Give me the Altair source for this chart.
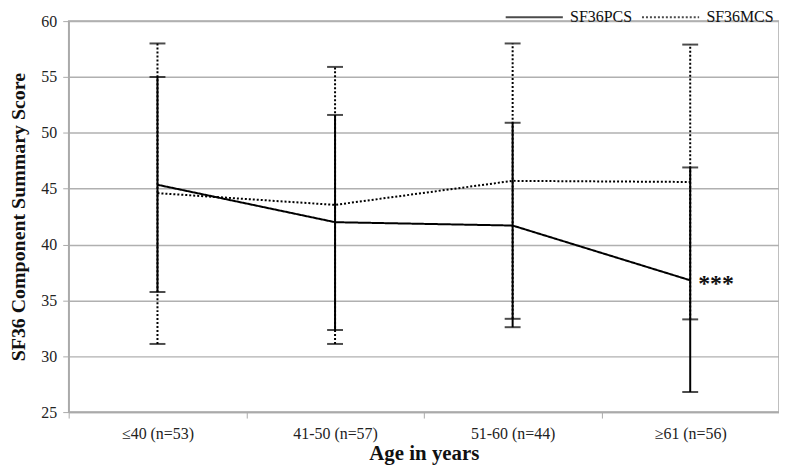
import altair as alt
import pandas as pd

categories = ["≤40 (n=53)", "41-50 (n=57)", "51-60 (n=44)", "≥61 (n=56)"]
series = ["SF36PCS", "SF36MCS"]
pcs_mean = [45.35, 42.0, 41.7, 36.8]
pcs_low = [35.75, 32.35, 32.6, 26.8]
pcs_high = [55.0, 51.6, 50.9, 46.9]
mcs_mean = [44.6, 43.55, 45.7, 45.6]
mcs_low = [31.1, 31.1, 33.35, 33.3]
mcs_high = [58.0, 55.9, 58.0, 57.9]
sig_labels = ["", "", "", "***"]

rows = []
for i, c in enumerate(categories):
    rows.append(dict(cat=c, series="SF36PCS", mean=pcs_mean[i], low=pcs_low[i], high=pcs_high[i], sig=sig_labels[i]))
    rows.append(dict(cat=c, series="SF36MCS", mean=mcs_mean[i], low=mcs_low[i], high=mcs_high[i], sig=""))
df = pd.DataFrame(rows)

FONT = "Times New Roman, Liberation Serif, serif"

x = alt.X("cat:N", sort=categories, title="Age in years",
          scale=alt.Scale(paddingInner=0, paddingOuter=0),
          axis=alt.Axis(labelAngle=0, labelFont=FONT, labelFontSize=16, labelColor="#222",
                        titleFont=FONT, titleFontSize=21, titleFontWeight="bold", titleColor="#111",
                        tickBand="extent", tickColor="#aaa", tickSize=6, domainColor="#aaa",
                        domainWidth=1.5, labelPadding=8, titlePadding=1))
yscale = alt.Scale(domain=[25, 60], nice=False, zero=False)
yaxis = alt.Axis(values=[25, 30, 35, 40, 45, 50, 55, 60], labelFont=FONT, labelFontSize=16,
                 labelColor="#222", titleFont=FONT, titleFontSize=20, titleFontWeight="bold",
                 titleColor="#111", gridColor="#b0b0b0", gridWidth=1.5, domainColor="#aaa",
                 domainWidth=1.5, tickColor="#aaa", tickSize=6, labelPadding=6, titlePadding=12)

leg = alt.Legend(title=None, orient="none", direction="horizontal",
                 legendX=438, legendY=-34, symbolType="stroke",
                 symbolSize=3300, symbolStrokeWidth=2, labelFont=FONT, labelFontSize=16,
                 labelColor="#111", columnPadding=5, labelOffset=6)
dash = alt.StrokeDash("series:N", sort=series,
                      scale=alt.Scale(domain=series, range=[[1, 0], [2, 2]]), legend=leg)
col = alt.Color("series:N", sort=series,
                scale=alt.Scale(domain=series, range=["black", "black"]), legend=leg)

base = alt.Chart(df)

bars = base.mark_rule(strokeWidth=2).encode(
    x=x, y=alt.Y("low:Q", scale=yscale, axis=yaxis, title="SF36 Component Summary Score"),
    y2="high:Q", strokeDash=dash, color=col)
caps_low = base.mark_tick(thickness=2, size=16, orient="horizontal").encode(
    x=x, y=alt.Y("low:Q", scale=yscale), strokeDash=dash, color=col)
caps_high = base.mark_tick(thickness=2, size=16, orient="horizontal").encode(
    x=x, y=alt.Y("high:Q", scale=yscale), strokeDash=dash, color=col)
lines = base.mark_line(strokeWidth=2).encode(
    x=x, y=alt.Y("mean:Q", scale=yscale), strokeDash=dash, color=col)
sig = base.transform_filter(alt.datum.sig != "").mark_text(
    align="left", baseline="middle", dx=8, dy=4, font=FONT, fontSize=24, fontWeight="bold",
    color="#111").encode(x=x, y=alt.Y("mean:Q", scale=yscale), text="sig:N")

chart = alt.layer(bars, caps_low, caps_high, lines, sig).properties(
    width=714, height=393,
    autosize=alt.AutoSizeParams(type="none"),
    padding={"left": 61, "top": 12, "right": 0, "bottom": 53},
).configure(font=FONT).configure_view(stroke="#aaa", strokeWidth=1.5)

chart.save("out.html", embed_options={"renderer": "svg", "actions": False})
